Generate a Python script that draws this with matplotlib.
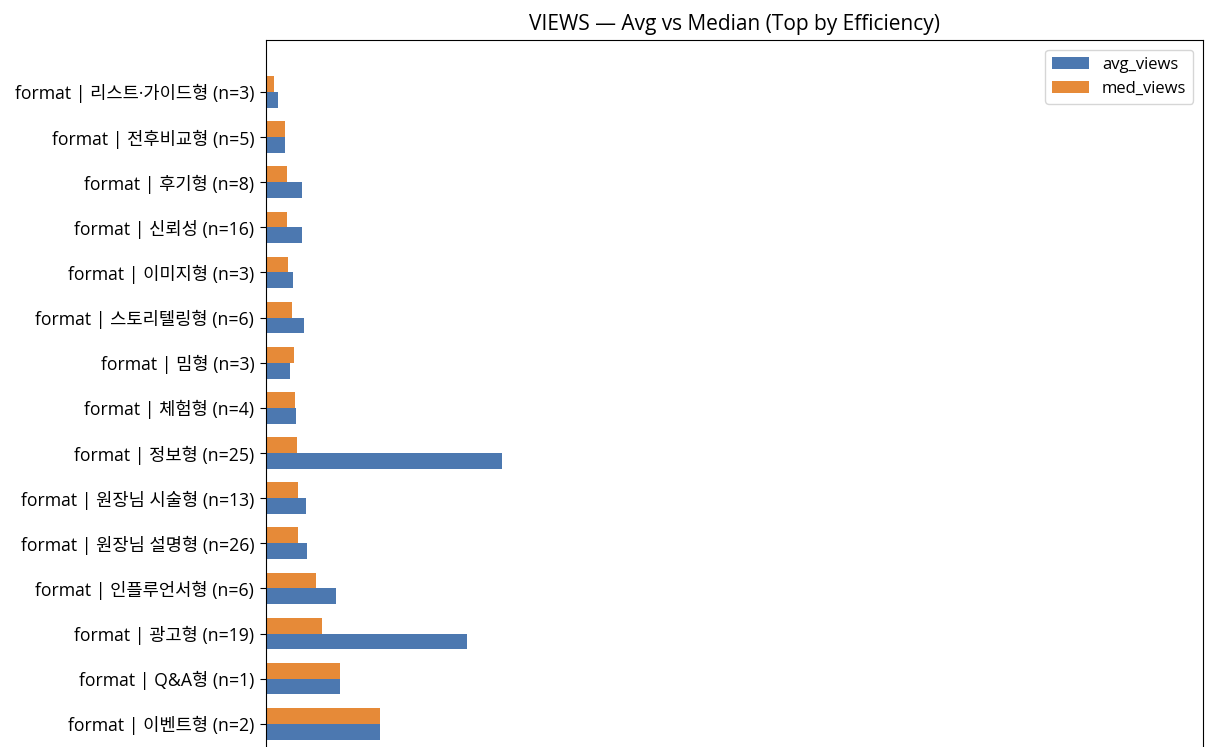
import numpy as np
import matplotlib
matplotlib.use("Agg")
import matplotlib.pyplot as plt

plt.rcParams['font.family'] = ['Open Sans', 'Noto Sans CJK KR', 'DejaVu Sans']

categories = [
    "format | 리스트·가이드형 (n=3)",
    "format | 전후비교형 (n=5)",
    "format | 후기형 (n=8)",
    "format | 신뢰성 (n=16)",
    "format | 이미지형 (n=3)",
    "format | 스토리텔링형 (n=6)",
    "format | 밈형 (n=3)",
    "format | 체험형 (n=4)",
    "format | 정보형 (n=25)",
    "format | 원장님 시술형 (n=13)",
    "format | 원장님 설명형 (n=26)",
    "format | 인플루언서형 (n=6)",
    "format | 광고형 (n=19)",
    "format | Q&A형 (n=1)",
    "format | 이벤트형 (n=2)",
]
avg_views = [300, 470, 890, 890, 675, 960, 610, 750, 5910, 1000, 1030, 1760, 5025, 1850, 2840]
med_views = [200, 470, 520, 520, 550, 640, 710, 730, 780, 800, 800, 1260, 1410, 1850, 2840]

fig = plt.figure(figsize=(12.24, 7.47), dpi=100)
ax = fig.add_axes([266/1224, 1 - 773/747, 937/1224, (773 - 40)/747])

n = len(categories)
y = np.arange(n)[::-1]
h = 0.35
ax.barh(y - h/2, avg_views, h, color='#4c78b0', label='avg_views')
ax.barh(y + h/2, med_views, h, color='#e68a38', label='med_views')
ax.set_yticks(y)
ax.set_yticklabels(categories, fontsize=12.7)
ax.tick_params(axis='y', length=4.5, pad=4)
ax.set_ylim(-1.09, 15.15)
ax.set_xlim(0, 23425)
ax.set_xticks([])
ax.set_title("VIEWS — Avg vs Median (Top by Efficiency)", fontsize=15, pad=7)
ax.legend(loc='upper right', fontsize=12, handlelength=2.2, handletextpad=0.8,
          borderaxespad=0.6)

fig.savefig("out.png", dpi=100)
